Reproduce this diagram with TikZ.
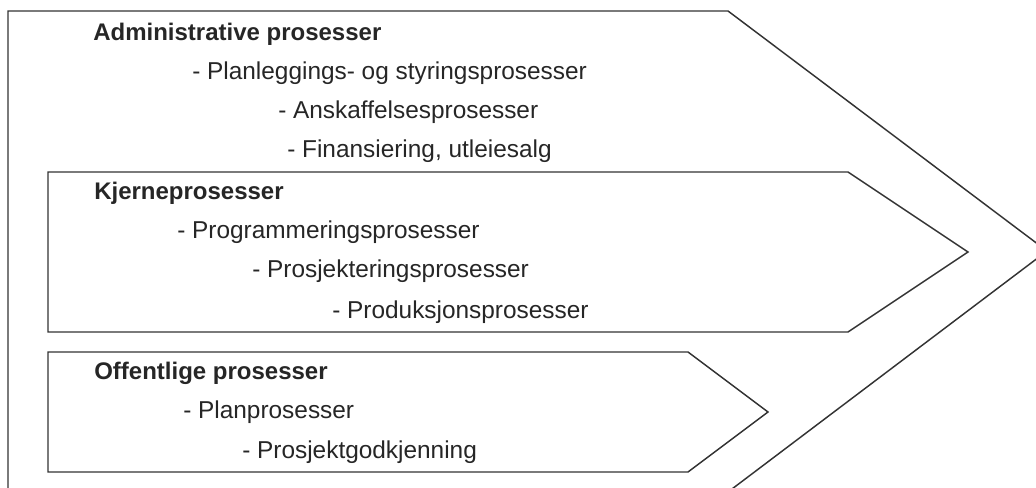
\documentclass[tikz,border=0pt]{standalone}
\usepackage{fontspec}
\setmainfont{Liberation Sans}
\usetikzlibrary{positioning}

\begin{document}
\begin{tikzpicture}[
    x=0.75pt, y=-0.75pt,
    % Stiler for pilene
    prosess/.style={draw=black!80, line width=1.1pt, line join=miter},
    % Stiler for tekst
    tittel/.style={anchor=base west, inner sep=0pt, text=black!85, font=\fontsize{18}{20}\selectfont\bfseries},
    punkt/.style={anchor=base west, inner sep=0pt, text=black!85, font=\fontsize{18.3}{20}\selectfont}
]
\useasboundingbox (0,0) rectangle (1036,488);
\clip (0,0) rectangle (1036,488);

% --- Ytre pil: administrative prosesser ---
\draw[prosess] (8,11) -- (728,11) -- (1047,251) -- (728,492) -- (8,492) -- cycle;

% --- Kjerneprosesser ---
\draw[prosess, fill=white] (48,172) -- (848,172) -- (968,252) -- (848,332) -- (48,332) -- cycle;

% --- Offentlige prosesser ---
\draw[prosess, fill=white] (48,352) -- (688,352) -- (768,412) -- (688,472) -- (48,472) -- cycle;

% === Administrative ===
\node[tittel] (adm) at (93,41) {Administrative prosesser};
\node[punkt] (adm_plan) at (192,80) {- Planleggings- og styringsprosesser};
\node[punkt] (adm_ansk) at (278,119) {- Anskaffelsesprosesser};
\node[punkt] (adm_fin) at (287,158) {- Finansiering, utleiesalg};

% === Kjerne ===
\node[tittel] (kje) at (94,200) {Kjerneprosesser};
\node[punkt] (kje_prog) at (177,239) {- Programmeringsprosesser};
\node[punkt] (kje_prosj) at (252,278) {- Prosjekteringsprosesser};
\node[punkt] (kje_prod) at (332,319) {- Produksjonsprosesser};

% === Offentlige ===
\node[tittel] (off) at (94,380) {Offentlige prosesser};
\node[punkt] (off_plan) at (183,418) {- Planprosesser};
\node[punkt] (off_godk) at (242,458) {- Prosjektgodkjenning};

\end{tikzpicture}
\end{document}
